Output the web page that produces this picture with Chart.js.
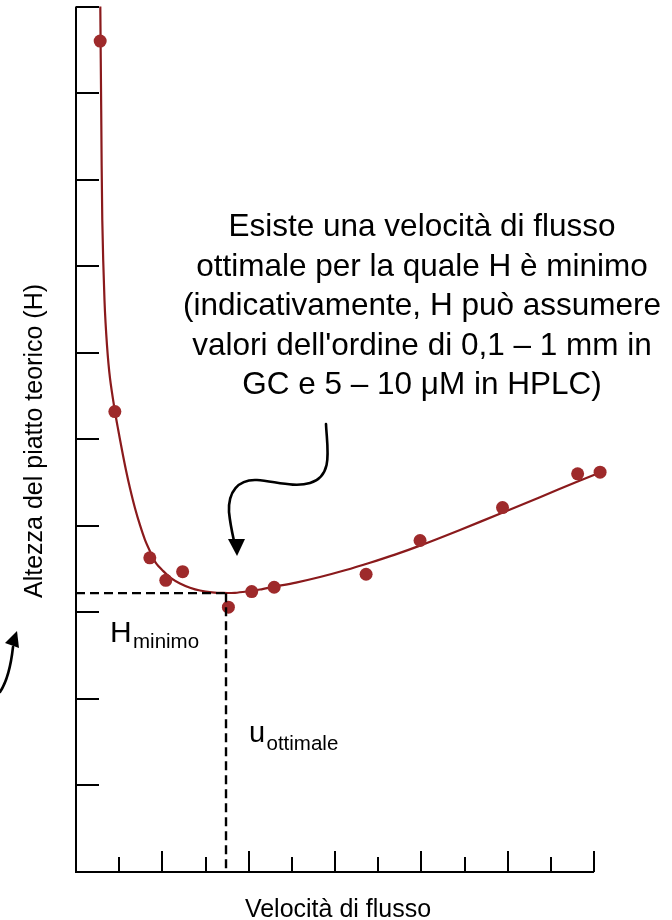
<!DOCTYPE html>
<html>
<head>
<meta charset="utf-8">
<script src="https://cdn.jsdelivr.net/npm/chart.js@4.4.1/dist/chart.umd.min.js"></script>
<style>
html,body{margin:0;padding:0;background:#fff;}
#wrap{width:672px;height:920px;}
canvas{display:block;}
</style>
</head>
<body>
<div id="wrap"><canvas id="vd" width="672" height="920"></canvas></div>
<script>
// punti sperimentali: velocità di flusso (u) e altezza del piatto (H), unità arbitrarie
const flowU  = [0.56, 0.90, 1.71, 2.08, 2.47, 3.53, 4.07, 4.59, 6.72, 7.97, 9.88, 11.62, 12.14];
const plateH = [9.60, 5.32, 3.63, 3.37, 3.47, 3.06, 3.24, 3.29, 3.44, 3.83, 4.21, 4.60, 4.62];

// andamento della curva (van Deemter) che passa tra i punti
const curveU = [0.563, 0.584, 0.609, 0.660, 0.718, 0.788, 0.903, 0.973, 1.066, 1.158, 1.251, 1.367, 1.483, 1.598,
                1.714, 1.853, 2.022, 2.201, 2.409, 2.641, 2.872, 3.150, 3.412, 3.683, 3.954, 4.262, 4.570, 5.096,
                5.652, 6.231, 6.810, 7.389, 7.968, 8.895, 9.875, 10.748, 11.62, 12.14];
const curveH = [10.00, 8.80, 7.53, 6.605, 6.085, 5.704, 5.318, 5.121, 4.873, 4.642, 4.434, 4.203, 4.007, 3.838,
                3.707, 3.568, 3.476, 3.395, 3.334, 3.285, 3.252, 3.231, 3.224, 3.226, 3.241, 3.264, 3.294, 3.344,
                3.408, 3.486, 3.573, 3.667, 3.771, 3.952, 4.151, 4.331, 4.512, 4.617];

// minimo della curva
const hMin = 3.222;
const uOpt = 3.475;

// tacche sugli assi
const yTicks = [1, 2, 3, 4, 5, 6, 7, 8, 9, 10];
const xTicks = [1, 2, 3, 4, 5, 6, 7, 8, 9, 10, 11, 12];

const RED_PT = '#9e2a2b';
const RED_LN = '#8a1a1c';
const FONT = '"Liberation Sans", Arial, Helvetica, sans-serif';

const toXY = (xs, ys) => xs.map((x, i) => ({x: x, y: ys[i]}));

const assi = {
  id: 'assi',
  beforeDatasetsDraw(chart) {
    const {ctx, chartArea: a, scales: {x, y}} = chart;
    ctx.save();
    ctx.strokeStyle = '#000';
    ctx.lineWidth = 2;
    ctx.lineCap = 'butt';
    ctx.beginPath();
    ctx.moveTo(a.left, y.getPixelForValue(10));
    ctx.lineTo(a.left, a.bottom);
    ctx.lineTo(x.getPixelForValue(12), a.bottom);
    ctx.stroke();
    yTicks.forEach(v => {
      const py = Math.round(y.getPixelForValue(v));
      ctx.beginPath();
      ctx.moveTo(a.left, py);
      ctx.lineTo(a.left + 23, py);
      ctx.stroke();
    });
    xTicks.forEach(v => {
      const px = Math.round(x.getPixelForValue(v));
      const len = v % 2 === 0 ? 21 : 15;
      ctx.beginPath();
      ctx.moveTo(px, a.bottom);
      ctx.lineTo(px, a.bottom - len);
      ctx.stroke();
    });
    ctx.restore();
  },
  afterDraw(chart) {
    const ctx = chart.ctx;
    ctx.save();
    ctx.fillStyle = '#000';
    ctx.strokeStyle = '#000';

    // titoli degli assi
    ctx.font = '25px ' + FONT;
    ctx.textAlign = 'center';
    ctx.textBaseline = 'alphabetic';
    ctx.fillText('Velocità di flusso', 338, 917);
    ctx.save();
    ctx.translate(42, 441);
    ctx.rotate(-Math.PI / 2);
    ctx.fillText('Altezza del piatto teorico (H)', 0, 0);
    ctx.restore();

    // nota esplicativa
    const note = [
      'Esiste una velocità di flusso',
      'ottimale per la quale H è minimo',
      '(indicativamente, H può assumere',
      "valori dell'ordine di 0,1 – 1 mm in",
      'GC e 5 – 10 μM in HPLC)'
    ];
    ctx.font = '31.5px ' + FONT;
    note.forEach((t, i) => ctx.fillText(t, 422, 236 + i * 39.5));

    // etichette H minimo e u ottimale
    ctx.textAlign = 'left';
    ctx.font = '30px ' + FONT;
    ctx.fillText('H', 110, 642);
    ctx.font = '20.5px ' + FONT;
    ctx.fillText('minimo', 133, 648);
    ctx.font = '29px ' + FONT;
    ctx.fillText('u', 249, 742);
    ctx.font = '20.5px ' + FONT;
    ctx.fillText('ottimale', 266.5, 750);

    // freccia ondulata verso il minimo
    ctx.lineWidth = 2.6;
    ctx.lineCap = 'round';
    ctx.beginPath();
    ctx.moveTo(326, 424);
    ctx.bezierCurveTo(327, 448, 334, 476, 310, 483);
    ctx.bezierCurveTo(294, 488, 274, 481, 257, 480);
    ctx.bezierCurveTo(238, 479, 228, 492, 229, 512);
    ctx.bezierCurveTo(230, 522, 232, 532, 234, 541);
    ctx.stroke();
    ctx.beginPath();
    ctx.moveTo(237, 556);
    ctx.lineTo(228, 539);
    ctx.lineTo(245, 539);
    ctx.closePath();
    ctx.fill();

    // piccola freccia in basso a sinistra
    ctx.beginPath();
    ctx.moveTo(0, 692);
    ctx.bezierCurveTo(8, 680, 11, 665, 13, 647);
    ctx.stroke();
    ctx.beginPath();
    ctx.moveTo(17, 631);
    ctx.lineTo(5, 643);
    ctx.lineTo(19, 648);
    ctx.closePath();
    ctx.fill();
    ctx.restore();
  }
};

new Chart(document.getElementById('vd'), {
  type: 'scatter',
  data: {
    datasets: [
      {
        label: 'H minimo',
        data: [{x: 0, y: hMin}, {x: uOpt, y: hMin}],
        showLine: true, borderColor: '#000', borderWidth: 2.4, borderDash: [9, 5],
        pointRadius: 0, clip: false, order: 0
      },
      {
        label: 'u ottimale',
        data: [{x: uOpt, y: hMin}, {x: uOpt, y: 0}],
        showLine: true, borderColor: '#000', borderWidth: 2.4, borderDash: [9, 5],
        pointRadius: 0, clip: false, order: 0
      },
      {
        label: 'misure',
        data: toXY(flowU, plateH),
        pointRadius: 6.5, pointBackgroundColor: RED_PT, pointBorderColor: RED_PT,
        pointBorderWidth: 0, clip: false, order: 1
      },
      {
        label: 'curva',
        data: toXY(curveU, curveH),
        showLine: true, borderColor: RED_LN, borderWidth: 2.2,
        tension: 0.3, pointRadius: 0, clip: false, order: 2
      }
    ]
  },
  options: {
    responsive: false,
    animation: false,
    devicePixelRatio: 1,
    // area del grafico: u da 0 a 12.2, H da 0 a 10
    layout: {padding: {left: 76, right: 69.33, top: 6, bottom: 48}},
    plugins: {legend: {display: false}, tooltip: {enabled: false}},
    scales: {
      x: {type: 'linear', min: 0, max: 12.2, display: false},
      y: {type: 'linear', min: 0, max: 10, display: false}
    }
  },
  plugins: [assi]
});
</script>
</body>
</html>
